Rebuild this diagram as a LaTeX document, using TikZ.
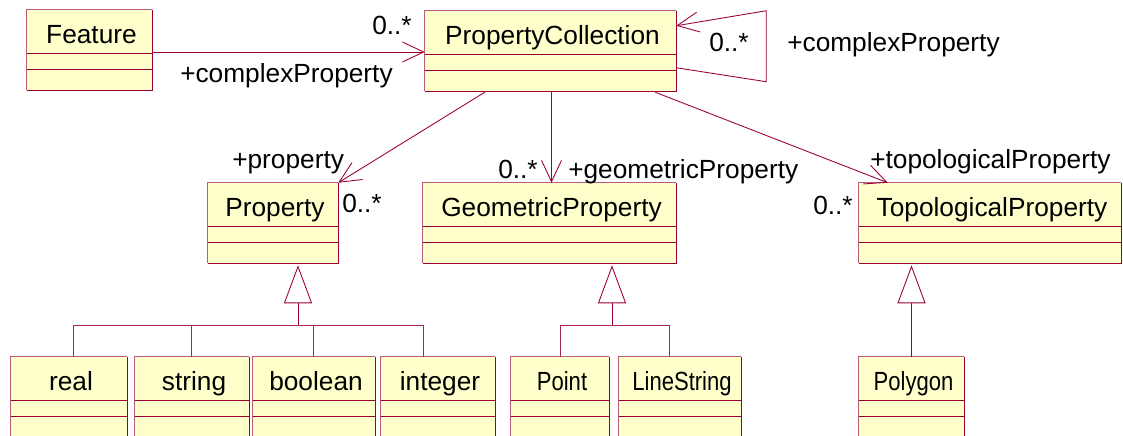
\documentclass[tikz,border=0pt]{standalone}
\usepackage{fontspec}
\setmainfont{Liberation Sans}
\usetikzlibrary{arrows.meta,calc,fit}
\definecolor{umlfill}{HTML}{FFFFCC}
\definecolor{umlline}{HTML}{990033}
\newcommand{\umlclass}[5]{%
  \node[fit={(#2,#3) (#4,#3+80)}, inner sep=0pt, fill=umlfill] (#1) {};
  \draw[umlline!65, line width=0.7pt] (#1.south west) -- (#1.north west) -- (#1.north east);
  \draw[umlline, line width=1.1pt] (#1.north east) -- (#1.south east) -- (#1.south west);
  \draw[divider] ($(#1.north west)+(0,44)$) -- ($(#1.north east)+(0,44)$);
  \draw[divider] ($(#1.north west)+(0,60)$) -- ($(#1.north east)+(0,60)$);
  \node[lbl, anchor=base] (#1-name) at ($(#1.north)+(2,33.5)$) {#5};
}
\newcommand{\narrow}[1]{\scalebox{0.84}[1]{#1}}
\begin{document}
\begin{tikzpicture}[x=0.75pt,y=-0.75pt,
  lbl/.style={font=\fontsize{19.7}{23}\selectfont, inner sep=0pt},
  divider/.style={draw=umlline, line width=0.7pt},
  assoc/.style={draw=umlline, line width=0.65pt, -{Straight Barb[length=16pt,width=15pt]}},
  tree/.style={draw=umlline!85, line width=0.65pt},
  gen/.style={draw=umlline, line width=0.65pt, -{Triangle[length=28.5pt,width=21pt,fill=white]}}]
\useasboundingbox (0,0) rectangle (1123,435);
\clip (0,0) rectangle (1123,435);

% classes
\umlclass{feature}{27}{10}{152}{Feature}
\umlclass{pc}{425}{11}{676}{PropertyCollection}
\umlclass{prop}{208}{183}{338}{Property}
\umlclass{geo}{423}{183}{676}{GeometricProperty}
\umlclass{topo}{859}{183}{1121}{TopologicalProperty}
\umlclass{real}{11}{357}{127}{real}
\umlclass{string}{135}{357}{249}{string}
\umlclass{boolean}{253}{357}{375}{boolean}
\umlclass{integer}{381}{357}{495}{integer}
\umlclass{point}{511}{357}{609}{\narrow{Point}}
\umlclass{linestring}{619}{357}{741}{\narrow{LineString}}
\umlclass{polygon}{859}{357}{964}{\narrow{Polygon}}

% associations
\coordinate (fa) at ($(feature.east)+(0,2)$);
\draw[assoc] (fa) -- (fa -| pc.west);

\coordinate (l0) at ($(pc.north east)+(0,57)$);
\coordinate (l1) at ($(pc.north east)+(90,71)$);
\coordinate (l2) at ($(pc.north east)+(90,0)$);
\coordinate (l3) at ($(pc.north east)+(0,15)$);
\draw[assoc] (l0) -- (l1) -- (l2) -- (l3);

\draw[assoc] ($(pc.south west)+(60,1)$) -- (prop.north east);
\coordinate (ga) at ($(pc.south)+(1,0)$);
\draw[assoc] (ga) -- (ga |- geo.north);
\draw[assoc] ($(pc.south east)+(-21,1)$) -- ($(topo.north west)+(29,0)$);

% role and multiplicity labels
\node[lbl, anchor=base west] (m1) at (372,35) {0..*};
\node[lbl, anchor=base west] (c1) at (180,82) {+complexProperty};
\node[lbl, anchor=base west] (m2) at (709,52) {0..*};
\node[lbl, anchor=base west] (c2) at (787,52) {+complexProperty};
\node[lbl, anchor=base west] (r1) at (232,168) {+property};
\node[lbl, anchor=base west] (m3) at (342,212) {0..*};
\node[lbl, anchor=base west] (m4) at (498,178) {0..*};
\node[lbl, anchor=base west] (r2) at (568,178) {+geometricProperty};
\node[lbl, anchor=base west] (r3) at (870,168) {+topologicalProperty};
\node[lbl, anchor=base west] (m5) at (813,214) {0..*};

% generalizations: Property
\coordinate (ptip) at ($(prop.south)+(25,2)$);
\coordinate (pj) at ($(ptip)+(0,60)$);
\coordinate (a1) at ($(real.north)+(4,0)$);
\coordinate (a2) at ($(string.north)+(-1,0)$);
\coordinate (a3) at ($(boolean.north)+(-1,0)$);
\coordinate (a4) at ($(integer.north)+(-15,0)$);
\draw[tree] (a1) |- (pj) -| (a4);
\draw[tree] (a2) -- (a2 |- pj);
\draw[tree] (a3) -- (a3 |- pj);
\draw[gen] (pj) -- (ptip);

% generalizations: GeometricProperty
\coordinate (gtip) at ($(geo.south)+(62.5,2)$);
\coordinate (gj) at ($(gtip)+(0,60)$);
\coordinate (b1) at (point.north);
\coordinate (b2) at ($(linestring.north)+(-11,0)$);
\draw[tree] (b1) |- (gj) -| (b2);
\draw[gen] (gj) -- (gtip);

% generalization: TopologicalProperty
\coordinate (ttip) at ($(polygon.north |- topo.south)+(0,2)$);
\draw[gen] (polygon.north) -- (ttip);
\end{tikzpicture}
\end{document}
